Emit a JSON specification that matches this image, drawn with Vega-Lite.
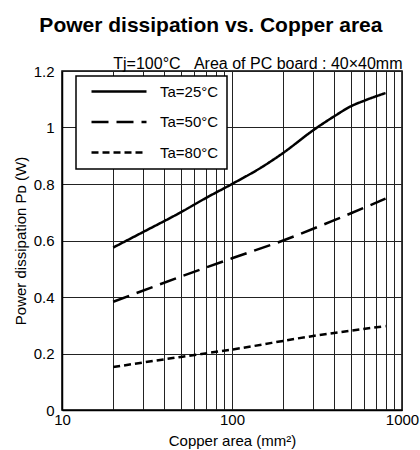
{
  "$schema": "https://vega.github.io/schema/vega-lite/v6.json",
  "width": 340,
  "height": 339,
  "padding": {"left": 13, "top": 15, "right": 5, "bottom": 5},
  "background": "white",
  "title": {
    "text": "Power dissipation vs. Copper area",
    "fontSize": 21,
    "fontWeight": "bold",
    "font": "Liberation Sans",
    "anchor": "middle",
    "frame": "bounds",
    "color": "black",
    "offset": 19,
    "dx": -5
  },
  "config": {
    "view": {"stroke": "black", "strokeWidth": 1.5},
    "font": "Liberation Sans",
    "axis": {
      "labelFont": "Liberation Sans",
      "titleFont": "Liberation Sans",
      "labelFontSize": 15,
      "titleFontSize": 15,
      "titleFontWeight": "normal",
      "labelColor": "black",
      "titleColor": "black",
      "domainColor": "black",
      "domainWidth": 1.5,
      "gridColor": "#222222",
      "gridWidth": 1,
      "ticks": false
    },
    "legend": {"strokeWidth": 1.5}
  },
  "data": {
    "values": [
      {"area": 20, "pd": 0.575, "ta": "Ta=25°C"},
      {"area": 30, "pd": 0.63, "ta": "Ta=25°C"},
      {"area": 50, "pd": 0.70, "ta": "Ta=25°C"},
      {"area": 70, "pd": 0.75, "ta": "Ta=25°C"},
      {"area": 100, "pd": 0.80, "ta": "Ta=25°C"},
      {"area": 150, "pd": 0.86, "ta": "Ta=25°C"},
      {"area": 200, "pd": 0.91, "ta": "Ta=25°C"},
      {"area": 300, "pd": 0.99, "ta": "Ta=25°C"},
      {"area": 400, "pd": 1.04, "ta": "Ta=25°C"},
      {"area": 500, "pd": 1.075, "ta": "Ta=25°C"},
      {"area": 600, "pd": 1.095, "ta": "Ta=25°C"},
      {"area": 800, "pd": 1.122, "ta": "Ta=25°C"},
      {"area": 20, "pd": 0.383, "ta": "Ta=50°C"},
      {"area": 50, "pd": 0.472, "ta": "Ta=50°C"},
      {"area": 100, "pd": 0.537, "ta": "Ta=50°C"},
      {"area": 200, "pd": 0.60, "ta": "Ta=50°C"},
      {"area": 400, "pd": 0.672, "ta": "Ta=50°C"},
      {"area": 800, "pd": 0.748, "ta": "Ta=50°C"},
      {"area": 20, "pd": 0.152, "ta": "Ta=80°C"},
      {"area": 50, "pd": 0.188, "ta": "Ta=80°C"},
      {"area": 100, "pd": 0.214, "ta": "Ta=80°C"},
      {"area": 300, "pd": 0.262, "ta": "Ta=80°C"},
      {"area": 800, "pd": 0.297, "ta": "Ta=80°C"}
    ]
  },
  "layer": [
    {
      "mark": {"type": "line", "color": "black", "strokeWidth": 2.5, "interpolate": "monotone"},
      "encoding": {
        "x": {
          "field": "area",
          "type": "quantitative",
          "scale": {"type": "log", "domain": [10, 1000], "nice": false},
          "axis": {
            "orient": "bottom",
            "values": [10, 20, 30, 40, 50, 60, 70, 80, 90, 100, 200, 300, 400, 500, 600, 700, 800, 900, 1000],
            "labelExpr": "datum.value == 10 || datum.value == 100 || datum.value == 1000 ? toString(datum.value) : ''",
            "grid": true,
            "labelPadding": 2,
            "labelFlush": false,
            "labelOverlap": false,
            "title": "Copper area (mm²)",
            "titlePadding": 6
          }
        },
        "y": {
          "field": "pd",
          "type": "quantitative",
          "scale": {"domain": [0, 1.2], "nice": false},
          "axis": {
            "values": [0, 0.2, 0.4, 0.6, 0.8, 1, 1.2],
            "format": "~g",
            "grid": true,
            "labelPadding": 8,
            "title": "Power dissipation Pᴅ (W)",
            "titlePadding": 5
          }
        },
        "strokeDash": {
          "field": "ta",
          "type": "nominal",
          "scale": {
            "domain": ["Ta=25°C", "Ta=50°C", "Ta=80°C"],
            "range": [[1, 0], [17, 8], [7, 4]]
          },
          "legend": {
            "orient": "none",
            "legendX": 14,
            "legendY": 5,
            "title": null,
            "strokeColor": "black",
            "fillColor": "white",
            "padding": 8,
            "symbolType": "M0,0H10",
            "symbolSize": 121,
            "symbolStrokeWidth": 2.5,
            "symbolStrokeColor": "black",
            "labelFontSize": 15,
            "labelFont": "Liberation Sans",
            "labelColor": "black",
            "labelOffset": 61,
            "rowPadding": 14.5
          }
        }
      }
    },
    {
      "mark": {"type": "line", "opacity": 0},
      "encoding": {
        "x": {
          "field": "area",
          "type": "quantitative",
          "axis": {
            "orient": "top",
            "title": "Tj=100°C\u00a0\u00a0\u00a0Area of PC board : 40×40mm",
            "titleAnchor": "end",
            "titleFontSize": 16,
            "labels": false,
            "domain": false,
            "grid": false,
            "titlePadding": 0
          }
        },
        "y": {"field": "pd", "type": "quantitative", "axis": null}
      }
    }
  ],
  "resolve": {"axis": {"x": "independent", "y": "independent"}}
}
